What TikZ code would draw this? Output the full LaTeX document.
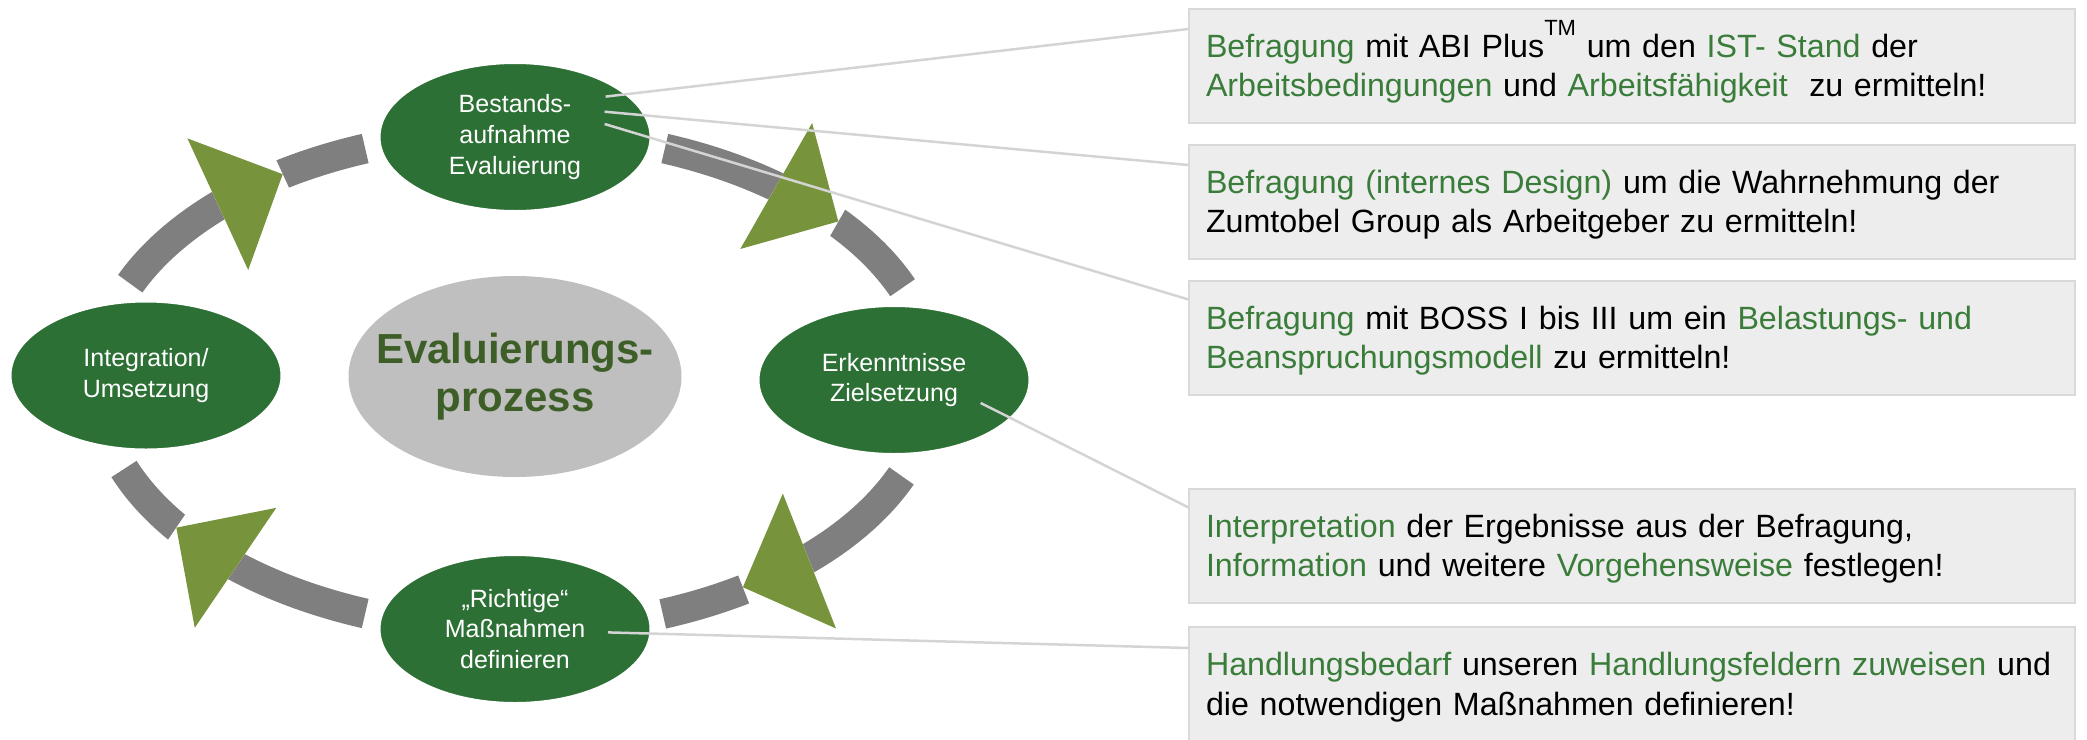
\documentclass[tikz,border=0pt]{standalone}
\usepackage{fontspec}
\setmainfont{Liberation Sans}
\usepackage{tikz}
\usetikzlibrary{shapes,calc}

\definecolor{stagegreen}{HTML}{2D7035}
\definecolor{arrowgreen}{HTML}{77933C}
\definecolor{ringgray}{HTML}{7F7F7F}
\definecolor{hubgray}{HTML}{BFBFBF}
\definecolor{hubtext}{HTML}{3D5F27}
\definecolor{boxfill}{HTML}{EDEDED}
\definecolor{boxline}{HTML}{D9D9D9}
\definecolor{linkgray}{HTML}{D4D4D4}
\definecolor{txtgreen}{HTML}{3A7D3A}

\newcommand{\hl}[1]{\textcolor{txtgreen}{#1}}

\tikzset{
  stage/.style={ellipse, fill=stagegreen, draw=white, line width=2pt,
    minimum width=271pt, minimum height=148pt, text=white, align=center,
    font=\fontsize{25}{30.6}\selectfont},
  infobox/.style={rectangle, fill=boxfill, draw=boxline, line width=2pt,
    minimum width=886pt, minimum height=114pt, text width=851pt,
    text height=24pt, text depth=40.5pt,
    inner xsep=17.5pt, align=left, font=\fontsize{32.2}{39.3}\selectfont},
  ring/.style={draw=ringgray, line width=30pt},
  link/.style={draw=linkgray, line width=2.5pt}
}

\begin{document}
\begin{tikzpicture}[y=1pt, x=1pt, yscale=-1, inner sep=0pt, outer sep=0pt]
  \useasboundingbox (0,0) rectangle (2087,739);
  \coordinate (ringmid) at (515,381);
  \path[ring] ($(ringmid)+(203:418 and 249)$) arc[start angle=203,
    end angle=249, x radius=418, y radius=249];
  \path[ring] ($(ringmid)+(291:418 and 249)$) arc[start angle=291,
    end angle=338, x radius=418, y radius=249];
  \path[ring] ($(ringmid)+(22.4:418 and 249)$) arc[start angle=22.4,
    end angle=69.3, x radius=418, y radius=249];
  \path[ring] ($(ringmid)+(111:418 and 249)$) arc[start angle=111,
    end angle=159.3, x radius=418, y radius=249];

  \begin{scope}[shift={(217.8,204.2)}, rotate=-24.8]
    \path[fill=white] (0,-72.5) rectangle (71.5,72.5);
    \path[fill=arrowgreen] (0,-72.5) -- (71.5,0) -- (0,72.5) -- cycle;
  \end{scope}
  \begin{scope}[shift={(776.2,186)}, rotate=29.7]
    \path[fill=white] (0,-72.5) rectangle (71.5,72.5);
    \path[fill=arrowgreen] (0,-72.5) -- (71.5,0) -- (0,72.5) -- cycle;
  \end{scope}
  \begin{scope}[shift={(809.4,561)}, rotate=158.5]
    \path[fill=white] (0,-72.5) rectangle (71.5,72.5);
    \path[fill=arrowgreen] (0,-72.5) -- (71.5,0) -- (0,72.5) -- cycle;
  \end{scope}
  \begin{scope}[shift={(235.5,567.8)}, rotate=214.2]
    \path[fill=white] (0,-72.5) rectangle (71.5,72.5);
    \path[fill=arrowgreen] (0,-72.5) -- (71.5,0) -- (0,72.5) -- cycle;
  \end{scope}

  \node[ellipse, fill=hubgray, minimum width=333pt, minimum height=201pt]
    (centre) at (515,376.5) {};
  \node[align=center, text=hubtext,
    font=\bfseries\fontsize{42}{48}\selectfont] (centretext) at (centre)
    {Evaluierungs-\\prozess};

  \node[stage] (stage1) at (515,137) {Bestands-\\aufnahme\\Evaluierung};
  \node[stage] (stage2) at (894,380) {Erkenntnisse\\Zielsetzung};
  \node[stage] (stage3) at (515,629) {„Richtige“\\Maßnahmen\\definieren};
  \node[stage] (stage4) at (146,375.5) {Integration/\\Umsetzung};

  \node[infobox] (box1) at (1631.5,65.5) {\hl{Befragung} mit ABI
    Plus\smash{\raisebox{22pt}{\fontsize{22}{22}\selectfont TM}} um den
    \hl{IST- Stand} der\\\hl{Arbeitsbedingungen} und
    \hl{Arbeitsfähigkeit}~ zu ermitteln!};
  \node[infobox] (box2) at (1631.5,201.5) {\hl{Befragung (internes Design)}
    um die Wahrnehmung der\\Zumtobel Group als Arbeitgeber zu ermitteln!};
  \node[infobox] (box3) at (1631.5,337.5) {\hl{Befragung} mit BOSS I bis III
    um ein \hl{Belastungs- und}\\\hl{Beanspruchungsmodell} zu ermitteln!};
  \node[infobox] (box4) at (1631.5,545.5) {\hl{Interpretation} der Ergebnisse
    aus der Befragung,\\\hl{Information} und weitere \hl{Vorgehensweise}
    festlegen!};
  \node[infobox] (box5) at (1631.5,684) {\mbox{\hl{Handlungsbedarf} unseren
    \hl{Handlungsfeldern zuweisen} und}\\die notwendigen Maßnahmen
    definieren!};

  \coordinate (c1) at (605.6,96.6);
  \coordinate (c2) at (604.6,111.7);
  \coordinate (c3) at (604.6,124);
  \coordinate (c4) at (980.7,403);
  \coordinate (c5) at (608,632.4);
  \path[link] (c1) -- ($(box1.north west)+(0,20.5)$);
  \path[link] (c2) -- ($(box2.north west)+(0,20.5)$);
  \path[link] (c3) -- ($(box3.north west)+(0,19)$);
  \path[link] (c4) -- ($(box4.north west)+(0,19)$);
  \path[link] (c5) -- ($(box5.north west)+(0,21)$);

\end{tikzpicture}
\end{document}
